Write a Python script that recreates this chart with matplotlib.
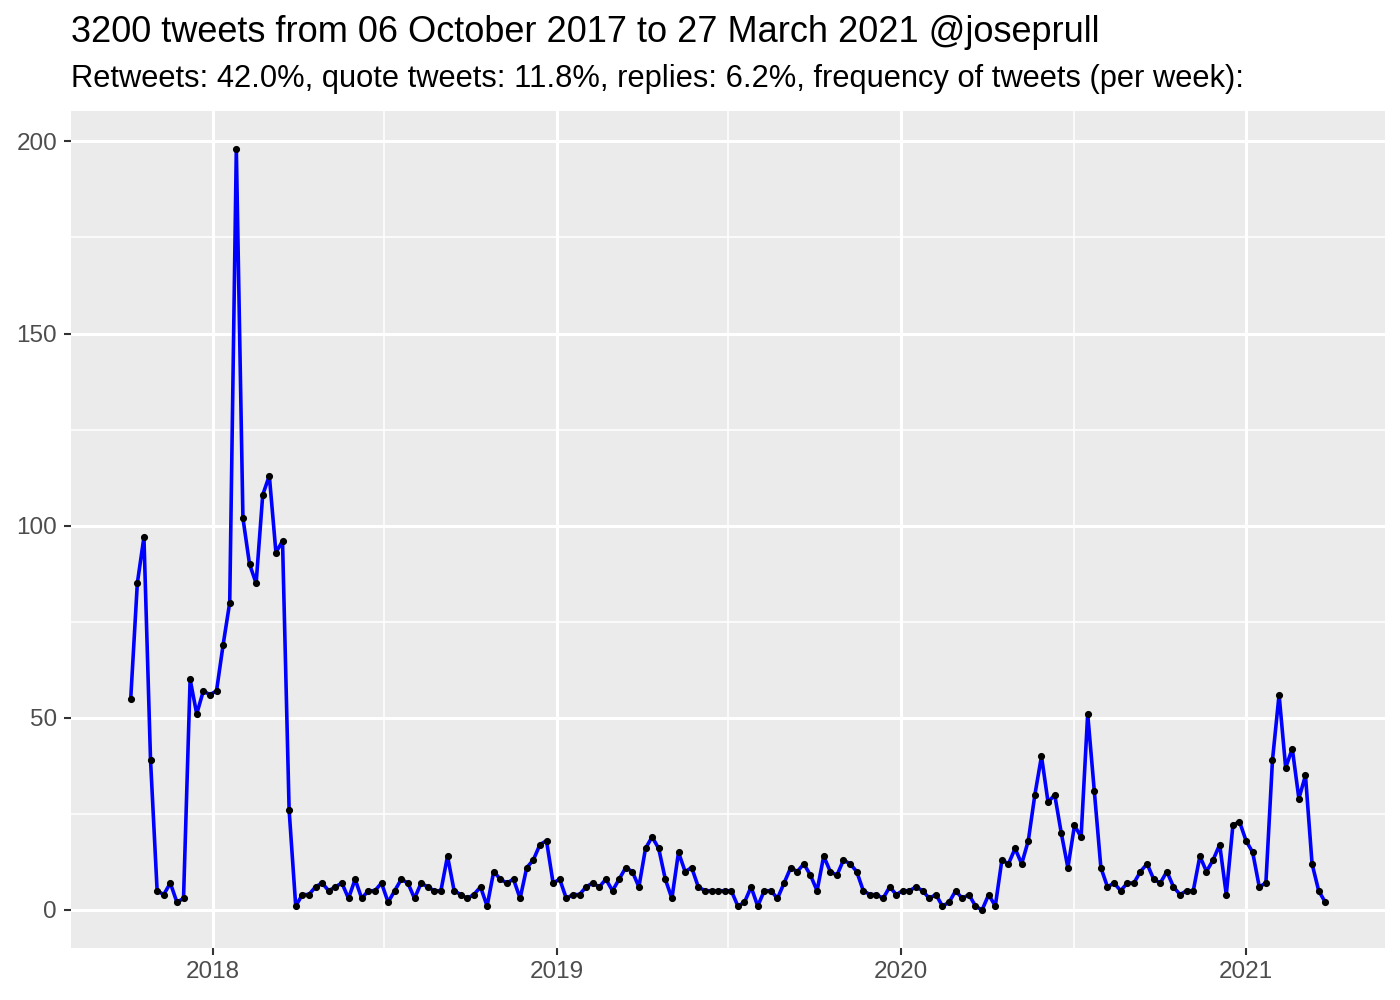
import numpy as np
import pandas as pd
import matplotlib
matplotlib.use('Agg')
import matplotlib.pyplot as plt
import matplotlib.dates as mdates

plt.rcParams['font.family'] = ['Liberation Sans', 'DejaVu Sans']

# weekly tweet counts
start_date = '2017-10-06'
counts = [55, 85, 97, 39, 5, 4, 7, 2, 3, 60, 51, 57, 56, 57, 69, 80, 198, 102, 90, 85,
          108, 113, 93, 96, 26,
          1, 4, 4, 6, 7, 5, 6, 7, 3, 8,
          3, 5, 5, 7, 2, 5, 8, 7, 3, 7,
          6, 5, 5, 14, 5, 4, 3, 4, 6, 1,
          10, 8, 7, 8, 3, 11, 13, 17, 18, 7,
          8, 3, 4, 4, 6, 7, 6, 8, 5, 8,
          11, 10, 6, 16, 19, 16, 8, 3, 15, 10,
          11, 6, 5, 5, 5, 5, 5, 1, 2, 6,
          1, 5, 5, 3, 7, 11, 10, 12, 9, 5,
          14, 10, 9, 13, 12, 10, 5, 4, 4, 3,
          6, 4, 5, 5, 6, 5, 3, 4, 1, 2,
          5, 3, 4, 1, 0, 4, 1, 13, 12, 16,
          12, 18, 30, 40, 28, 30, 20, 11, 22, 19,
          51, 31, 11, 6, 7, 5, 7, 7, 10, 12,
          8, 7, 10, 6, 4, 5, 5, 14, 10, 13,
          17, 4, 22, 23, 18, 15, 6, 7, 39, 56,
          37, 42, 29, 35, 12, 5, 2]
weeks = pd.date_range(start_date, periods=len(counts), freq='7D')

title = "3200 tweets from 06 October 2017 to 27 March 2021 @joseprull"
subtitle = "Retweets: 42.0%, quote tweets: 11.8%, replies: 6.2%, frequency of tweets (per week):"
year_ticks = pd.to_datetime(['2018-01-01', '2019-01-01', '2020-01-01', '2021-01-01'])
year_minor = pd.to_datetime(['2017-07-02', '2018-07-02', '2019-07-02', '2020-07-02', '2021-07-02'])

fig = plt.figure(figsize=(14, 10), dpi=100)
ax = fig.add_axes([71/1400, 52/1000, (1385-71)/1400, (948-111)/1000])
ax.set_facecolor('#EBEBEB')
for s in ax.spines.values():
    s.set_visible(False)

ax.plot(weeks, counts, color='blue', lw=2.6, zorder=3)
ax.scatter(weeks, counts, s=17, color='black', zorder=4)

ax.set_xticks(year_ticks)
ax.set_xticklabels([str(d.year) for d in year_ticks])
ax.set_xticks(year_minor, minor=True)
ax.set_yticks([0, 50, 100, 150, 200])
ax.set_yticks([25, 75, 125, 175], minor=True)

# ggplot-like 5% expansion (set after ticks so the limits stick)
x0, x1 = mdates.date2num(weeks[0]), mdates.date2num(weeks[-1])
pad = (x1 - x0) * 0.05
ax.set_xlim(x0 - pad, x1 + pad)
ymax = max(counts)
ax.set_ylim(-0.05 * ymax, ymax * 1.05)

ax.grid(which='major', color='white', lw=2.2)
ax.grid(which='minor', color='white', lw=1.1)
ax.set_axisbelow(True)
ax.tick_params(which='major', length=5, width=1.5, color='#333333',
               labelsize=17.5, labelcolor='#4D4D4D')
ax.tick_params(axis='y', pad=5)
ax.tick_params(axis='x', pad=4)
ax.tick_params(which='minor', length=0)

fig.text(71/1400, 1 - 42/1000, title, fontsize=26, va='baseline', ha='left')
fig.text(71/1400, 1 - 87/1000, subtitle, fontsize=22.2, va='baseline', ha='left')

fig.savefig('out.png', dpi=100)
